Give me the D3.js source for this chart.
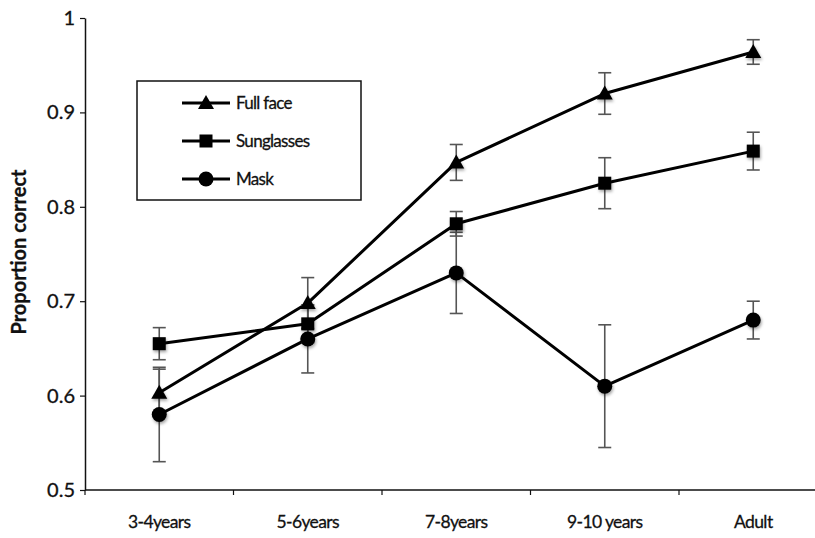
<!DOCTYPE html>
<html>
<head>
<meta charset="utf-8">
<script src="https://cdn.jsdelivr.net/npm/d3@7"></script>
<style>
  html, body { margin: 0; padding: 0; background: #fff; }
  svg { display: block; }
  text { font-family: Lato, "Liberation Sans", Arial, sans-serif; fill: #111; stroke: #111; stroke-width: 0.3px; }
</style>
</head>
<body>
<svg id="chart" width="815" height="538"></svg>
<script>
// Age groups on the x axis
const categories = ["3-4years", "5-6years", "7-8years", "9-10 years", "Adult"];

// Mean proportion correct per condition
const fullFace   = [0.603, 0.698, 0.847, 0.920, 0.964];
const sunglasses = [0.655, 0.676, 0.782, 0.825, 0.859];
const mask       = [0.580, 0.660, 0.730, 0.610, 0.680];

// Error bar half-widths
const fullFaceErr   = [0.025, 0.027, 0.019, 0.022, 0.013];
const sunglassesErr = [0.017, 0.020, 0.013, 0.027, 0.020];
const maskErr       = [0.050, 0.036, 0.043, 0.065, 0.020];

// Y axis ticks
const yTicks = [0.5, 0.6, 0.7, 0.8, 0.9, 1];

const series = [
  { name: "Full face",  values: fullFace,   errs: fullFaceErr,   marker: "triangle" },
  { name: "Sunglasses", values: sunglasses, errs: sunglassesErr, marker: "square" },
  { name: "Mask",       values: mask,       errs: maskErr,       marker: "circle" }
];

const svg = d3.select("#chart");

const defs = svg.append("defs");
const shadow = defs.append("filter").attr("id", "soft").attr("x", "-60%").attr("y", "-60%")
  .attr("width", "220%").attr("height", "220%");
shadow.append("feDropShadow").attr("dx", 1).attr("dy", 2).attr("stdDeviation", 1.6)
  .attr("flood-color", "#000").attr("flood-opacity", 0.35);

const x = d3.scaleBand().domain(categories).range([85, 827.5]).paddingInner(0).paddingOuter(0);
const y = d3.scaleLinear().domain([0.5, 1]).range([490, 18]);
const cx = c => x(c) + x.bandwidth() / 2;

// Y axis
const yAxis = svg.append("g").attr("transform", "translate(85,0)")
  .call(d3.axisLeft(y).tickValues(yTicks).tickSize(5).tickSizeOuter(0).tickPadding(5)
    .tickFormat(v => v === 1 ? "1" : v.toFixed(1)));
yAxis.select(".domain").attr("stroke", "#111").attr("stroke-width", 1.5);
yAxis.selectAll(".tick line").attr("stroke", "#111").attr("stroke-width", 1.2);
yAxis.selectAll(".tick text").attr("font-size", 20).attr("fill", "#111")
  .style("font-family", "Lato, \"Liberation Sans\", Arial, sans-serif");

// X axis: baseline, boundary ticks, centered labels
const xAxisG = svg.append("g");
xAxisG.append("line").attr("x1", 85).attr("x2", 815).attr("y1", y(0.5)).attr("y2", y(0.5))
  .attr("stroke", "#111").attr("stroke-width", 1.5);
xAxisG.selectAll("line.bt").data(categories).enter().append("line").attr("class", "bt")
  .attr("x1", d => x(d)).attr("x2", d => x(d))
  .attr("y1", y(0.5)).attr("y2", y(0.5) + 5)
  .attr("stroke", "#111").attr("stroke-width", 1.2);
xAxisG.selectAll("text").data(categories).enter().append("text")
  .attr("x", d => cx(d)).attr("y", 528).attr("text-anchor", "middle")
  .attr("font-size", 17.5).attr("letter-spacing", -0.6).text(d => d);

// Y axis title
svg.append("text").attr("transform", "translate(26,252) rotate(-90)")
  .attr("text-anchor", "middle").attr("font-size", 20).attr("font-weight", "bold")
  .text("Proportion correct");

// Series lines
const line = d3.line().x((d, i) => cx(categories[i])).y(d => y(d));
svg.selectAll("path.series").data(series).enter().append("path").attr("class", "series")
  .attr("d", s => line(s.values)).attr("fill", "none")
  .attr("stroke", "#000").attr("stroke-width", 3).attr("stroke-linejoin", "round");

// Error bars
const capHalf = 6.5;
series.forEach(s => {
  const g = svg.append("g").attr("stroke", "#555").attr("stroke-width", 1.6);
  s.values.forEach((v, i) => {
    const px = cx(categories[i]);
    const top = y(v + s.errs[i]), bot = y(v - s.errs[i]);
    g.append("line").attr("x1", px).attr("x2", px).attr("y1", top).attr("y2", bot);
    g.append("line").attr("x1", px - capHalf).attr("x2", px + capHalf).attr("y1", top).attr("y2", top);
    g.append("line").attr("x1", px - capHalf).attr("x2", px + capHalf).attr("y1", bot).attr("y2", bot);
  });
});

// Marker shapes
function drawMarker(g, type, px, py) {
  if (type === "triangle") {
    g.append("path").attr("d", `M${px},${py - 8}L${px + 8},${py + 6}L${px - 8},${py + 6}Z`).attr("fill", "#000");
  } else if (type === "square") {
    g.append("rect").attr("x", px - 6.5).attr("y", py - 6.5).attr("width", 13).attr("height", 13).attr("fill", "#000");
  } else {
    g.append("circle").attr("cx", px).attr("cy", py).attr("r", 7.5).attr("fill", "#000");
  }
}

series.forEach(s => {
  const g = svg.append("g").attr("filter", "url(#soft)");
  s.values.forEach((v, i) => drawMarker(g, s.marker, cx(categories[i]), y(v)));
});

// Legend
const legend = svg.append("g");
legend.append("rect").attr("x", 137).attr("y", 81).attr("width", 224).attr("height", 119)
  .attr("fill", "#fff").attr("stroke", "#111").attr("stroke-width", 1.5);
series.forEach((s, i) => {
  const ly = 103 + i * 38;
  legend.append("line").attr("x1", 182).attr("x2", 230).attr("y1", ly).attr("y2", ly)
    .attr("stroke", "#000").attr("stroke-width", 3);
  drawMarker(legend, s.marker, 206, ly);
  legend.append("text").attr("x", 236).attr("y", ly + 6).attr("font-size", 17)
    .attr("letter-spacing", -0.7).text(s.name);
});
</script>
</body>
</html>
